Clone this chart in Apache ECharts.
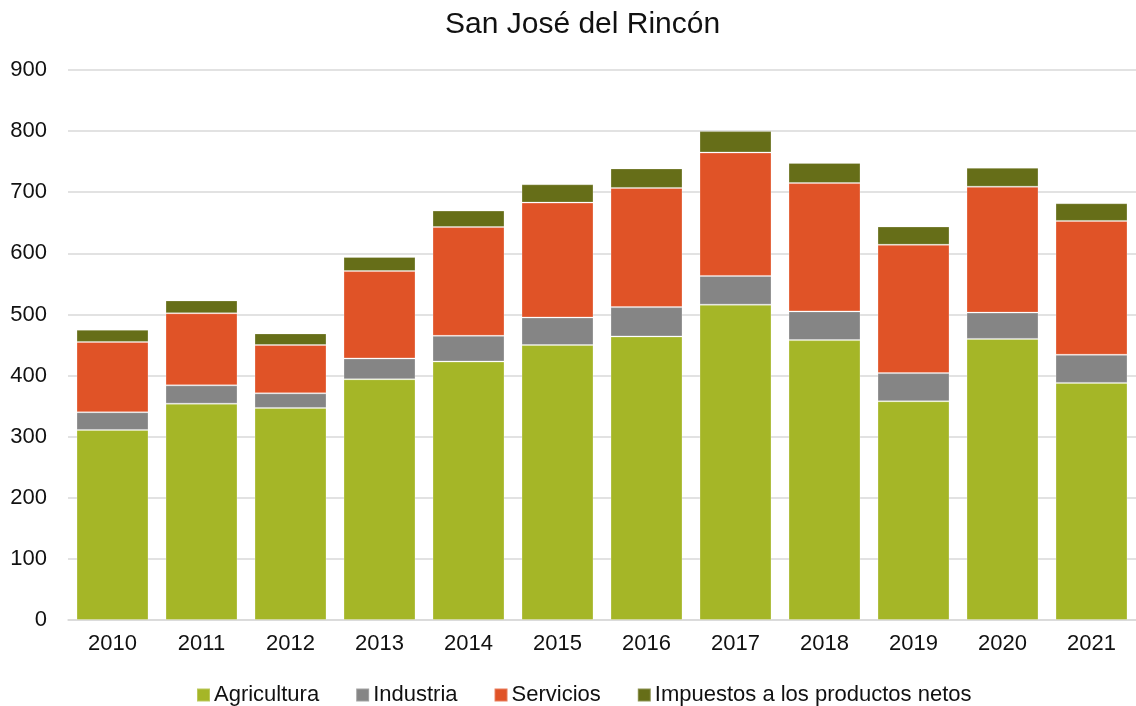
<!DOCTYPE html>
<html>
<head>
<meta charset="utf-8">
<script src="https://cdn.jsdelivr.net/npm/echarts@6/dist/echarts.min.js"></script>
<style>
  html, body { margin: 0; padding: 0; background: #fff; }
  #chart { width: 1136px; height: 706px; }
</style>
</head>
<body>
<div id="chart"></div>
<script>
const years = ["2010", "2011", "2012", "2013", "2014", "2015", "2016", "2017", "2018", "2019", "2020", "2021"];

const agricultura = [311, 354, 347, 394, 423, 450, 464, 516, 458, 358, 460, 388];
const industria = [29, 30, 24, 34, 42, 45, 48, 47, 47, 46, 43, 46];
const servicios = [115, 118, 79, 143, 178, 188, 195, 202, 210, 210, 206, 219];
const impuestos = [20, 21, 19, 23, 27, 30, 32, 35, 33, 30, 31, 29];

const font = "'Liberation Sans', Arial, sans-serif";

const chart = echarts.init(document.getElementById("chart"));

function stackSeries(name, data, color) {
  return {
    name: name,
    type: "bar",
    stack: "total",
    data: data,
    barWidth: 72,
    itemStyle: {
      color: color,
      borderColor: "rgba(255,255,255,0.25)",
      borderWidth: 1,
    },
  };
}

chart.setOption({
  animation: false,
  textStyle: { fontFamily: font },
  title: {
    text: "San José del Rincón",
    left: 440,
    top: 5,
    textStyle: {
      fontFamily: font,
      fontSize: 30,
      fontWeight: "normal",
      color: "#111",
    },
  },
  legend: {
    left: 191,
    top: 679,
    itemWidth: 13,
    itemHeight: 13,
    itemGap: 36,
    icon: "rect",
    textStyle: {
      fontFamily: font,
      fontSize: 22,
      color: "#111",
      padding: [0, 0, 0, -1],
    },
  },
  grid: {
    left: 68,
    right: -8,
    top: 70,
    bottom: 86,
  },
  xAxis: {
    type: "category",
    data: years,
    axisTick: { show: false },
    axisLine: {
      lineStyle: { color: "#d9d9d9", width: 1.5 },
    },
    axisLabel: {
      fontFamily: font,
      fontSize: 22,
      color: "#111",
      margin: 13,
    },
  },
  yAxis: {
    type: "value",
    min: 0,
    max: 900,
    interval: 100,
    axisLine: { show: false },
    axisTick: { show: false },
    axisLabel: {
      fontFamily: font,
      fontSize: 22,
      color: "#111",
      margin: 21,
    },
    splitLine: {
      lineStyle: { color: "#d9d9d9", width: 1.5 },
    },
  },
  series: [
    stackSeries("Agricultura", agricultura, "#a5b627"),
    stackSeries("Industria", industria, "#858585"),
    stackSeries("Servicios", servicios, "#e05327"),
    stackSeries("Impuestos a los productos netos", impuestos, "#666e18"),
  ],
});
</script>
</body>
</html>
